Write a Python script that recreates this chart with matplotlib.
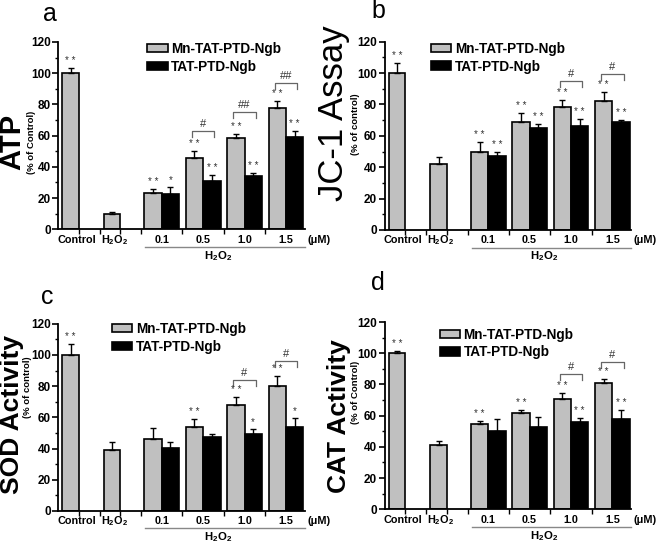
import matplotlib

matplotlib.use("Agg")
import matplotlib.pyplot as plt
from matplotlib.patches import Patch
from matplotlib.transforms import blended_transform_factory

plt.rcParams["font.family"] = ["Liberation Sans", "DejaVu Sans"]
plt.rcParams["mathtext.fontset"] = "custom"
plt.rcParams["mathtext.rm"] = "Liberation Sans:bold"
plt.rcParams["mathtext.default"] = "rm"

# --- data (% of control) ---
ref_labels = ["Control", "H$_2$O$_2$"]
conc_labels = ["0.1", "0.5", "1.0", "1.5"]
series_names = ["Mn-TAT-PTD-Ngb", "TAT-PTD-Ngb"]

atp_ref = [100.3, 10.0]
atp_ref_err = [3.2, 0.9]
atp_mn = [23.4, 45.9, 58.7, 77.9]
atp_mn_err = [2.4, 4.3, 2.2, 4.5]
atp_tat = [22.8, 30.9, 34.3, 58.9]
atp_tat_err = [4.5, 3.9, 2.0, 4.1]
atp_ref_stars = ["* *", ""]
atp_mn_stars = ["* *", "* *", "* *", "* *"]
atp_tat_stars = ["*", "* *", "* *", "* *"]
atp_hash = ["", "#", "##", "##"]
atp_hash_y = [0, 63.0, 75.3, 93.9]

jc1_ref = [100.2, 41.8]
jc1_ref_err = [6.0, 4.9]
jc1_mn = [49.5, 69.0, 78.1, 82.0]
jc1_mn_err = [6.4, 5.3, 4.5, 5.9]
jc1_tat = [47.1, 65.2, 66.4, 69.0]
jc1_tat_err = [2.8, 2.1, 4.3, 1.1]
jc1_ref_stars = ["* *", ""]
jc1_mn_stars = ["* *", "* *", "* *", "* *"]
jc1_tat_stars = ["* *", "* *", "* *", "* *"]
jc1_hash = ["", "", "#", "#"]
jc1_hash_y = [0, 0, 95.0, 99.6]

sod_ref = [99.7, 39.3]
sod_ref_err = [7.1, 4.9]
sod_mn = [45.9, 53.6, 67.7, 80.3]
sod_mn_err = [7.5, 5.1, 5.1, 6.0]
sod_tat = [40.2, 47.2, 49.5, 53.6]
sod_tat_err = [4.2, 2.1, 3.0, 5.8]
sod_ref_stars = ["* *", ""]
sod_mn_stars = ["", "* *", "* *", "* *"]
sod_tat_stars = ["", "", "*", "*"]
sod_hash = ["", "", "#", "#"]
sod_hash_y = [0, 0, 83.9, 96.3]

cat_ref = [100.3, 41.5]
cat_ref_err = [1.1, 2.1]
cat_mn = [54.5, 61.9, 70.7, 80.7]
cat_mn_err = [2.3, 1.7, 3.6, 2.8]
cat_tat = [50.2, 52.5, 56.1, 57.6]
cat_tat_err = [7.6, 6.8, 2.4, 5.8]
cat_ref_stars = ["* *", ""]
cat_mn_stars = ["* *", "* *", "* *", "* *"]
cat_tat_stars = ["", "", "* *", "* *"]
cat_hash = ["", "", "#", "#"]
cat_hash_y = [0, 0, 86.7, 94.6]

# --- layout ---
W, H = 658, 545
REF_X = [0.0, 1.0]
GROUP_X = [2.2, 3.2, 4.2, 5.2]
BAR_W = 0.42
XLIM = (-0.3, 5.66)
GRAY = "#c0c0c0"


def px(x, y):
    return x / W, 1 - y / H


def upper_err(ax, x, y, err):
    ax.errorbar(x, y, yerr=[[0] * len(err), err], fmt="none", ecolor="black",
                elinewidth=1.0, capsize=2.5, capthick=1.0, zorder=3)


def stars(ax, x, top, marks):
    for xi, t, m in zip(x, top, marks):
        if m:
            ax.text(xi, t + 2.6, m, ha="center", va="baseline", fontsize=7,
                    color="#333333")


def draw_panel(ax, ref, ref_err, mn, mn_err, tat, tat_err,
               ref_stars, mn_stars, tat_stars, hashes, hash_y, legend_xy):
    gx_mn = [g - BAR_W / 2 for g in GROUP_X]
    gx_tat = [g + BAR_W / 2 for g in GROUP_X]

    ax.bar(REF_X, ref, width=0.40, color=GRAY, edgecolor="black", linewidth=1.2, zorder=2)
    ax.bar(gx_mn, mn, width=BAR_W, color=GRAY, edgecolor="black", linewidth=1.2,
           zorder=2, label=series_names[0])
    ax.bar(gx_tat, tat, width=BAR_W, color="black", edgecolor="black", linewidth=1.2,
           zorder=2, label=series_names[1])
    upper_err(ax, REF_X, ref, ref_err)
    upper_err(ax, gx_mn, mn, mn_err)
    upper_err(ax, gx_tat, tat, tat_err)

    stars(ax, REF_X, [v + e for v, e in zip(ref, ref_err)], ref_stars)
    stars(ax, gx_mn, [v + e for v, e in zip(mn, mn_err)], mn_stars)
    stars(ax, gx_tat, [v + e for v, e in zip(tat, tat_err)], tat_stars)

    # significance brackets between the two series
    for g, h, y in zip(GROUP_X, hashes, hash_y):
        if not h:
            continue
        x0, x1 = g - 0.27, g + 0.27
        ax.plot([x0, x0, x1, x1], [y - 4, y, y, y - 4], color="#666666", lw=0.9,
                clip_on=False)
        ax.text(g, y + 1.3, h, ha="center", va="bottom", fontsize=8, color="#333333")

    ax.set_xlim(*XLIM)
    ax.set_ylim(0, 120)
    ax.set_yticks(range(0, 121, 20))
    ax.set_yticks(range(10, 120, 20), minor=True)
    ax.set_xticks([0.2, 0.7, 1.2, 1.7, 2.7, 3.7, 4.7])
    ax.set_xticklabels([])
    ax.tick_params(axis="y", direction="out", length=4, width=1.2, pad=1.5,
                   labelsize=8.5)
    ax.tick_params(axis="y", which="minor", direction="out", length=2.5, width=1.0)
    ax.tick_params(axis="x", direction="out", length=3.5, width=1.0)
    for lab in ax.get_yticklabels():
        lab.set_fontweight("bold")
    for s in ("top", "right"):
        ax.spines[s].set_visible(False)
    for s in ("left", "bottom"):
        ax.spines[s].set_linewidth(1.3)

    # category labels under the axis
    xy_tr = ("data", "axes fraction")
    for x, lab in zip([0.15, 1.05], ref_labels):
        ax.annotate(lab, xy=(x, 0), xycoords=xy_tr, xytext=(0, -7.5),
                    textcoords="offset points", ha="center", va="center",
                    fontsize=7.8, fontweight="bold")
    for x, lab in zip(GROUP_X, conc_labels):
        ax.annotate(lab, xy=(x, 0), xycoords=xy_tr, xytext=(0, -7.5),
                    textcoords="offset points", ha="center", va="center",
                    fontsize=7.8, fontweight="bold")
    ax.annotate("(\u03bcM)", xy=(5.72, 0), xycoords=xy_tr, xytext=(0, -7.5),
                textcoords="offset points", ha="left", va="center",
                fontsize=7.8, fontweight="bold")
    tr = blended_transform_factory(ax.transData, ax.transAxes)
    ax.plot([1.8, 5.66], [-0.093, -0.093], color="#888888", lw=1.0,
            transform=tr, clip_on=False)
    ax.annotate("H$_2$O$_2$", xy=(3.55, 0), xycoords=xy_tr, xytext=(0, -19),
                textcoords="offset points", ha="center", va="center",
                fontsize=8.2, fontweight="bold")

    handles = [Patch(facecolor=GRAY, edgecolor="black", linewidth=1.2),
               Patch(facecolor="black", edgecolor="black", linewidth=1.2)]
    ax.legend(handles, series_names, loc="upper left", bbox_to_anchor=legend_xy,
              frameon=False, borderpad=0, borderaxespad=0, handlelength=1.5,
              handleheight=0.6, handletextpad=0.25, labelspacing=0.28,
              prop={"weight": "bold", "size": 9.8})


fig = plt.figure(figsize=(W / 100, H / 100), dpi=100)

ax_a = fig.add_axes([0.0886, 0.5793, 0.3749, 0.3437])
ax_b = fig.add_axes([0.5847, 0.5780, 0.3749, 0.3455])
ax_c = fig.add_axes([0.0886, 0.0624, 0.3749, 0.3436])
ax_d = fig.add_axes([0.5847, 0.0655, 0.3749, 0.3436])

draw_panel(ax_a, atp_ref, atp_ref_err, atp_mn, atp_mn_err, atp_tat, atp_tat_err,
           atp_ref_stars, atp_mn_stars, atp_tat_stars, atp_hash, atp_hash_y, (0.36, 1.0))
draw_panel(ax_b, jc1_ref, jc1_ref_err, jc1_mn, jc1_mn_err, jc1_tat, jc1_tat_err,
           jc1_ref_stars, jc1_mn_stars, jc1_tat_stars, jc1_hash, jc1_hash_y, (0.187, 1.0))
draw_panel(ax_c, sod_ref, sod_ref_err, sod_mn, sod_mn_err, sod_tat, sod_tat_err,
           sod_ref_stars, sod_mn_stars, sod_tat_stars, sod_hash, sod_hash_y, (0.218, 1.01))
draw_panel(ax_d, cat_ref, cat_ref_err, cat_mn, cat_mn_err, cat_tat, cat_tat_err,
           cat_ref_stars, cat_mn_stars, cat_tat_stars, cat_hash, cat_hash_y, (0.223, 0.97))

# y-axis titles (va="baseline" keeps the descender room off the glyph side)
big = [("ATP", (20.5, 142), 21, "bold"),
       ("JC-1 Assay", (343, 113), 25, "normal"),
       ("SOD Activity", (19, 415), 19, "bold"),
       ("CAT Activity", (346, 416), 19, "bold")]
for txt, (x, y), size, weight in big:
    fig.text(*px(x, y), txt, rotation=90, ha="center", va="baseline",
             rotation_mode="anchor", fontsize=size, fontweight=weight)
small = [("(% of Control)", (31.5, 142)),
         ("(% of control)", (356, 124)),
         ("(% of control)", (28, 387)),
         ("(% of Control)", (355, 392))]
for txt, (x, y) in small:
    fig.text(*px(x, y), txt, rotation=90, ha="center", va="center",
             fontsize=6.8, fontweight="bold")

# panel letters
for letter, (x, y) in [("a", (50, 14)), ("b", (378, 11)), ("c", (47, 297)), ("d", (378, 283))]:
    fig.text(*px(x, y), letter, ha="center", va="center", fontsize=18)

fig.savefig("out.png", dpi=100)
